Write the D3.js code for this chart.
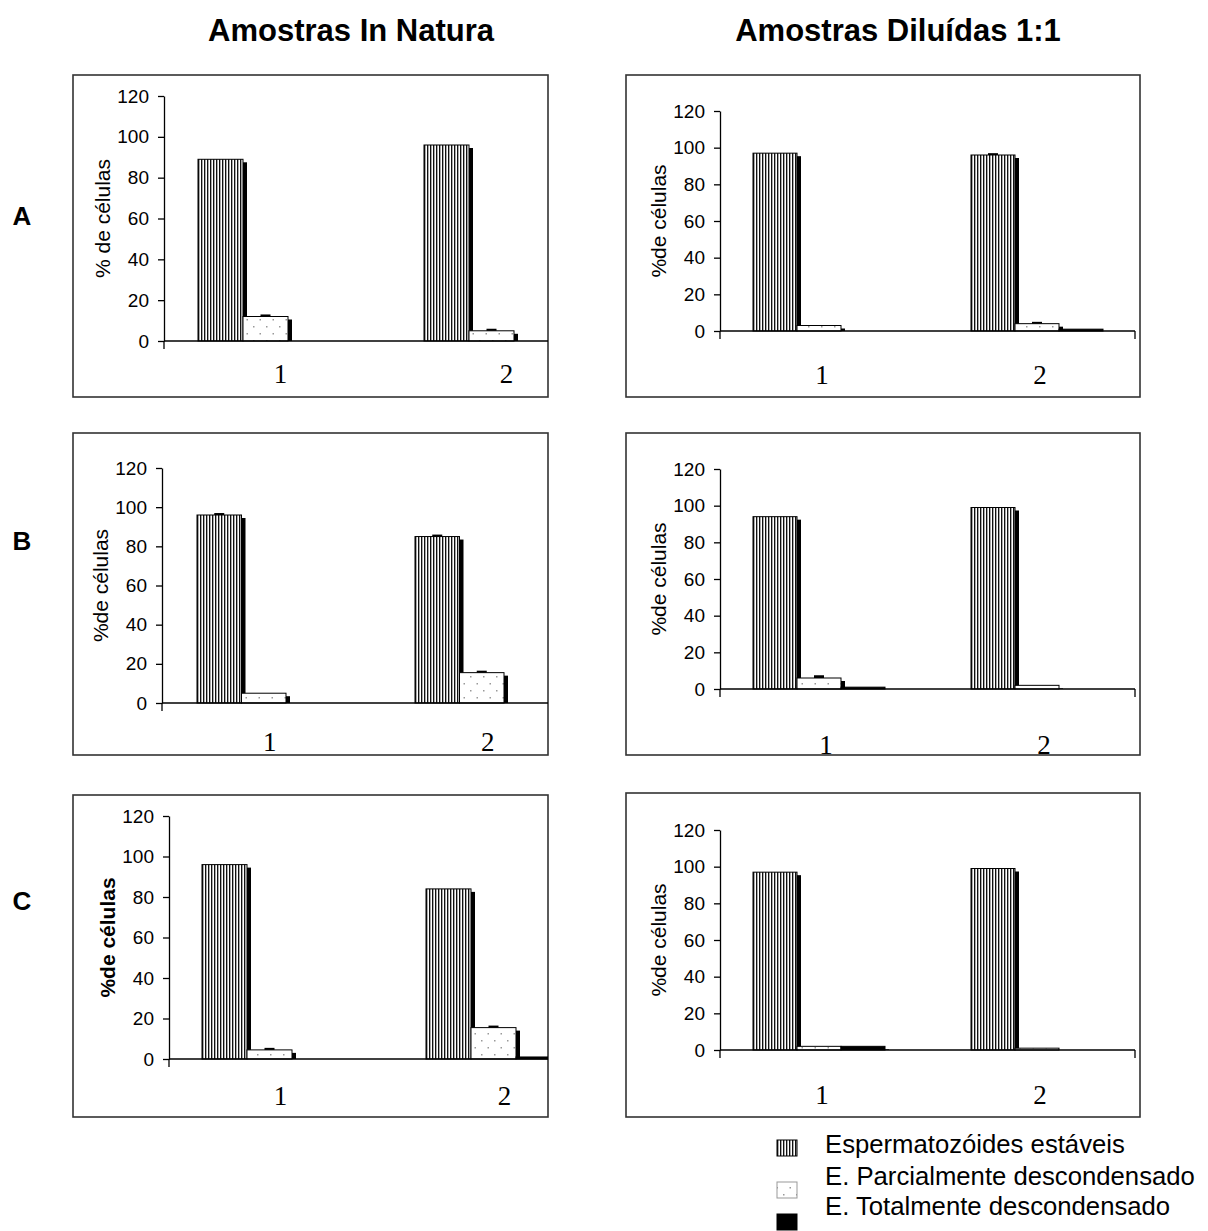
<!DOCTYPE html>
<html>
<head>
<meta charset="utf-8">
<script src="https://cdn.jsdelivr.net/npm/d3@7"></script>
<style>
  body { margin: 0; background: #fff; }
  svg text { font-family: "Liberation Sans", Arial, sans-serif; }
</style>
</head>
<body>
<svg width="1208" height="1231"></svg>
<script>
// ---- data ----
var columns = ["Amostras In Natura", "Amostras Diluídas 1:1"];
var rows = ["A", "B", "C"];
var categories = ["1", "2"];
var series = ["Espermatozóides estáveis", "E. Parcialmente descondensado", "E. Totalmente descondensado"];
var yTicks = [0, 20, 40, 60, 80, 100, 120];

// values[category][series]
var naturaA = [[89, 12, 0], [96, 5, 0]];
var naturaB = [[96, 5, 0], [85, 15.5, 0]];
var naturaC = [[96, 4.5, 0], [84, 15.5, 1]];
var diluidaA = [[97, 3, 0], [96, 4, 1]];
var diluidaB = [[94, 6, 1], [99, 2, 0]];
var diluidaC = [[97, 2, 2], [99, 1, 0]];

// error caps
var errNaturaA = [[0, 1, 0], [0, 1, 0]];
var errNaturaB = [[1, 0, 0], [1, 1, 0]];
var errNaturaC = [[0, 1, 0], [0, 1, 0]];
var errDiluidaA = [[0, 0, 0], [1, 1, 0]];
var errDiluidaB = [[0, 1.5, 0], [0, 0, 0]];
var errDiluidaC = [[0, 0, 0], [0, 0, 0]];

var yLabels = ["% de células", "%de células", "%de células", "%de células", "%de células", "%de células"];

// ---- layout of each little chart (pixels) ----
var panels = [
  {vals: naturaA,  err: errNaturaA,  lab: yLabels[0], frame: [73, 75, 475, 322],  ax: 164, y0: 341,  yTop: 96,  end: 548,  g1: 198, step: 226, bw: 45, ly: 383,  ldx: 15},
  {vals: diluidaA, err: errDiluidaA, lab: yLabels[1], frame: [626, 75, 514, 322], ax: 720, y0: 331,  yTop: 111, end: 1135, g1: 753, step: 218, bw: 44, ly: 384,  ldx: 3, endTick: true},
  {vals: naturaB,  err: errNaturaB,  lab: yLabels[2], frame: [73, 433, 475, 322], ax: 162, y0: 703,  yTop: 468, end: 548,  g1: 197, step: 218, bw: 44.5, ly: 751, ldx: 6},
  {vals: diluidaB, err: errDiluidaB, lab: yLabels[3], frame: [626, 433, 514, 322], ax: 720, y0: 689, yTop: 469, end: 1135, g1: 753, step: 218, bw: 44, ly: 754,  ldx: 7, endTick: true},
  {vals: naturaC,  err: errNaturaC,  lab: yLabels[4], frame: [73, 795, 475, 322], ax: 169, y0: 1059, yTop: 816, end: 548,  g1: 202, step: 224, bw: 45, ly: 1105, ldx: 11, bold: true},
  {vals: diluidaC, err: errDiluidaC, lab: yLabels[5], frame: [626, 793, 514, 324], ax: 720, y0: 1050, yTop: 830, end: 1135, g1: 753, step: 218, bw: 44, ly: 1104, ldx: 3, endTick: true}
];

var svg = d3.select("svg");
var defs = svg.append("defs");

// vertical stripes
var stripes = defs.append("pattern").attr("id", "stripes")
  .attr("patternUnits", "userSpaceOnUse").attr("width", 3).attr("height", 10);
stripes.append("rect").attr("width", 3).attr("height", 10).attr("fill", "#fff");
stripes.append("rect").attr("width", 1).attr("height", 10).attr("fill", "#111");
stripes.append("rect").attr("x", 1).attr("width", 1).attr("height", 10).attr("fill", "#aaa");

// sparse dots
var dots = defs.append("pattern").attr("id", "dots")
  .attr("patternUnits", "userSpaceOnUse").attr("width", 13).attr("height", 14);
dots.append("rect").attr("width", 13).attr("height", 14).attr("fill", "#fff");
dots.append("rect").attr("x", 3).attr("y", 4).attr("width", 1.5).attr("height", 1.5).attr("fill", "#999");
dots.append("rect").attr("x", 9.5).attr("y", 11).attr("width", 1.5).attr("height", 1.5).attr("fill", "#999");

var fills = ["url(#stripes)", "url(#dots)", "#000"];

// column titles
svg.selectAll(".coltitle").data(columns).enter().append("text")
  .attr("x", function(d, i) { return i == 0 ? 351 : 898; })
  .attr("y", 41)
  .attr("text-anchor", "middle")
  .style("font-weight", "bold").style("font-size", "31px")
  .text(function(d) { return d; });

// row letters
svg.selectAll(".rowlab").data(rows).enter().append("text")
  .attr("x", 22).attr("y", function(d, i) { return [225, 550, 910][i]; })
  .attr("text-anchor", "middle")
  .style("font-weight", "bold").style("font-size", "26px")
  .text(function(d) { return d; });

panels.forEach(function(p) {
  var g = svg.append("g");
  g.append("rect")
    .attr("x", p.frame[0]).attr("y", p.frame[1])
    .attr("width", p.frame[2]).attr("height", p.frame[3])
    .attr("fill", "#fff").attr("stroke", "#333").attr("stroke-width", 1.6);

  var y = d3.scaleLinear().domain([0, 120]).range([p.y0, p.yTop]);
  var x0 = d3.scaleBand().domain(categories)
    .range([p.g1, p.g1 + p.step + 3 * p.bw])
    .paddingInner(1 - 3 * p.bw / p.step).paddingOuter(0);
  var x1 = d3.scaleBand().domain([0, 1, 2]).range([0, x0.bandwidth()]);

  var clip = "clip" + p.frame[0] + "_" + p.frame[1];
  defs.append("clipPath").attr("id", clip).append("rect")
    .attr("x", p.frame[0]).attr("y", p.frame[1]).attr("width", p.frame[2]).attr("height", p.frame[3]);
  var plot = g.append("g").attr("clip-path", "url(#" + clip + ")");

  var groups = plot.selectAll(".grp").data(p.vals).enter().append("g")
    .attr("transform", function(d, i) { return "translate(" + x0(categories[i]) + ",0)"; });

  // shadows first
  groups.each(function(d, ci) {
    var gg = d3.select(this);
    d.forEach(function(v, si) {
      var top = y(v) + 3;
      if (v <= 0 || top >= p.y0) return;
      gg.append("rect").attr("x", x1(si) + 4).attr("y", top)
        .attr("width", x1.bandwidth()).attr("height", p.y0 - top).attr("fill", "#000");
    });
  });
  groups.each(function(d, ci) {
    var gg = d3.select(this);
    d.forEach(function(v, si) {
      if (v <= 0) return;
      gg.append("rect").attr("x", x1(si)).attr("y", y(v))
        .attr("width", x1.bandwidth()).attr("height", p.y0 - y(v))
        .attr("fill", fills[si]).attr("stroke", "#000").attr("stroke-width", 1);
      var e = p.err[ci][si];
      if (e > 0) {
        gg.append("rect").attr("x", x1(si) + x1.bandwidth() / 2 - 5).attr("y", y(v + e))
          .attr("width", 10).attr("height", y(v) - y(v + e)).attr("fill", "#000");
      }
    });
  });

  // x axis line
  g.append("line").attr("x1", p.ax).attr("x2", Math.min(p.end, p.frame[0] + p.frame[2]))
    .attr("y1", p.y0).attr("y2", p.y0).attr("stroke", "#000").attr("stroke-width", 1.3);
  g.append("line").attr("x1", p.ax).attr("x2", p.ax)
    .attr("y1", p.y0).attr("y2", p.y0 + 8).attr("stroke", "#000").attr("stroke-width", 1.3);
  if (p.endTick) {
    g.append("line").attr("x1", p.end).attr("x2", p.end)
      .attr("y1", p.y0).attr("y2", p.y0 + 8).attr("stroke", "#000").attr("stroke-width", 1.3);
  }

  // y axis
  var yAxis = g.append("g").attr("transform", "translate(" + p.ax + ",0)")
    .call(d3.axisLeft(y).tickValues(yTicks).tickSizeInner(6).tickSizeOuter(0).tickPadding(9));
  yAxis.select(".domain").attr("stroke", "#000").attr("stroke-width", 1.3);
  yAxis.selectAll(".tick line").attr("stroke", "#000").attr("stroke-width", 1.3);
  yAxis.selectAll(".tick text").attr("fill", "#000")
    .style("font-family", "'Liberation Sans', Arial, sans-serif").style("font-size", "19px");

  // category labels
  g.selectAll(".cat").data(categories).enter().append("text")
    .attr("x", function(d) { return x0(d) + x0.bandwidth() / 2 + p.ldx; })
    .attr("y", p.ly)
    .attr("text-anchor", "middle")
    .style("font-family", "'Liberation Serif', 'Times New Roman', serif").style("font-size", "27px")
    .text(function(d) { return d; });

  // y label
  g.append("text")
    .attr("transform", "translate(" + (p.ax - 62) + "," + ((p.y0 + p.yTop) / 2) + ") rotate(-90)")
    .attr("text-anchor", "middle").attr("dominant-baseline", "central")
    .style("font-size", p.bold ? "21px" : "21px")
    .style("font-weight", p.bold ? "bold" : "normal")
    .text(p.lab);
});

// legend
var legendSquares = [1140, 1182, 1214];
var legendBase = [1153, 1185, 1215];
var lg = svg.append("g");
series.forEach(function(s, i) {
  lg.append("rect").attr("x", 777).attr("y", legendSquares[i]).attr("width", 20).attr("height", 16)
    .attr("fill", fills[i]).attr("stroke", i == 1 ? "#999" : "#000").attr("stroke-width", 1);
  lg.append("text").attr("x", 825).attr("y", legendBase[i])
    .style("font-size", "25.7px").text(s);
});
</script>
</body>
</html>
